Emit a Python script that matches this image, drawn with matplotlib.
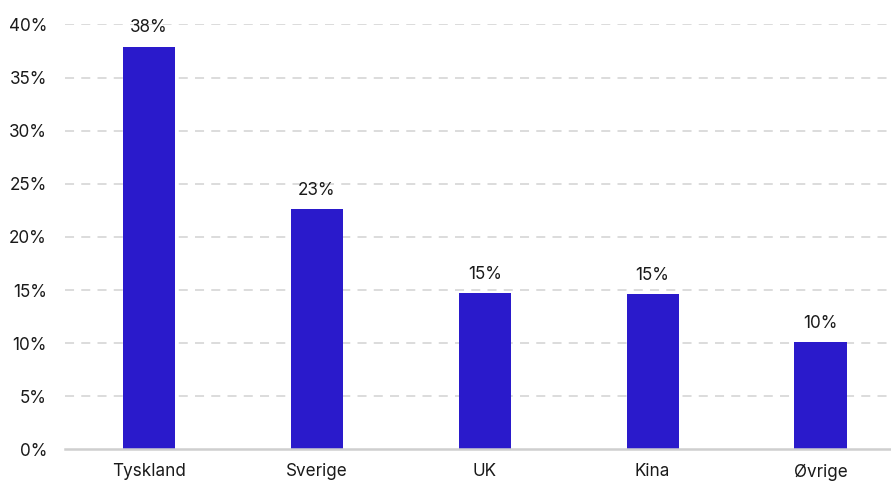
import matplotlib
matplotlib.use("Agg")
import matplotlib.pyplot as plt
from matplotlib.ticker import FuncFormatter, MultipleLocator

# Share of total by market (%)
categories = ["Tyskland", "Sverige", "UK", "Kina", "Øvrige"]
values = [37.9, 22.6, 14.7, 14.6, 10.1]

bar_color = "#2A1ACB"
text_color = "#1a1a1a"

plt.rcParams["font.family"] = ["Inter", "DejaVu Sans"]

fig = plt.figure(figsize=(8.91, 4.83), dpi=100)
ax = fig.add_axes([0.073, 0.0694, 0.927, 0.8799])

x = list(range(len(categories)))
bars = ax.bar(x, values, width=0.31, color=bar_color, zorder=3)

for xi, v in zip(x, values):
    ax.annotate(f"{v:.0f}%", (xi, v), xytext=(0, 7.5), textcoords="offset points",
                ha="center", va="bottom", fontsize=12.3, color=text_color)

ax.set_xlim(-0.5, 4.42)
ax.set_ylim(0, 40)
ax.yaxis.set_major_locator(MultipleLocator(5))
ax.yaxis.set_major_formatter(FuncFormatter(lambda v, _: f"{v:.0f}%"))
ax.set_xticks(x)
ax.set_xticklabels(categories)

for y in range(5, 41, 5):
    ax.axhline(y, color="#d9d9d9", linewidth=1.3, linestyle=(0, (5, 4)), zorder=1)
ax.axhline(0, color="#cfcfcf", linewidth=1.8, zorder=4, clip_on=False)

for s in ax.spines.values():
    s.set_visible(False)
ax.tick_params(axis="both", length=0, labelsize=12.3, colors=text_color)
ax.tick_params(axis="y", pad=13)
ax.tick_params(axis="x", pad=10)

fig.savefig("out.png", dpi=100)
